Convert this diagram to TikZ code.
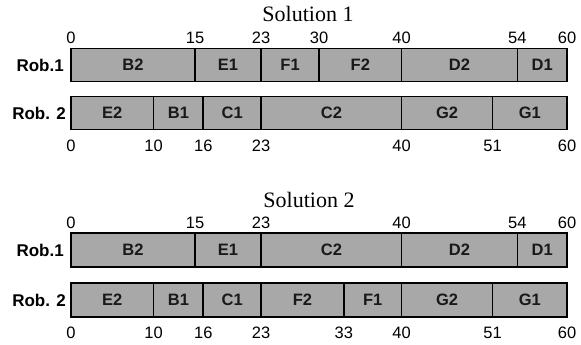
\documentclass[tikz,border=0pt]{standalone}
\usepackage{fontspec}
\setmainfont{Liberation Serif}
\setsansfont{Liberation Sans}
\begin{document}
\begin{tikzpicture}[x=1pt,y=-1pt,
  seg/.style={draw=black, line width=1.6pt, fill=black!34, inner sep=0pt, minimum height=33pt,
    font=\sffamily\bfseries\fontsize{16.5}{16.5}\selectfont, text=black!90},
  num/.style={font=\sffamily\fontsize{16.5}{16.5}\selectfont, inner sep=0pt},
  rob/.style={font=\sffamily\bfseries\fontsize{17}{17}\selectfont, inner sep=0pt, anchor=east},
  ttl/.style={font=\fontsize{22}{22}\selectfont, inner sep=0pt}]
\useasboundingbox (0,0) rectangle (581,345);
\def\ux{8.2667}
% titles
\node[ttl] (t1) at (308,14) {Solution 1};
\node[ttl] (t2) at (309,200) {Solution 2};
% robot labels
\node[rob] (r11) at (64,65) {Rob.1};
\node[rob] (r12) at (66,113) {Rob. 2};
\node[rob] (r21) at (64,250) {Rob.1};
\node[rob] (r22) at (66,300) {Rob. 2};
% Solution 1, Rob.1
\foreach \a/\b/\l/\n in {0/15/B2/a,15/23/E1/b,23/30/F1/c,30/40/F2/d,40/54/D2/e,54/60/D1/f}{
  \node[seg, minimum width={(\b-\a)*\ux*1pt}] (sa\n) at ({71+(\a+\b)/2*\ux},65) {\l};
}
% Solution 1, Rob.2
\foreach \a/\b/\l/\n in {0/10/E2/a,10/16/B1/b,16/23/C1/c,23/40/C2/d,40/51/G2/e,51/60/G1/f}{
  \node[seg, minimum width={(\b-\a)*\ux*1pt}] (sb\n) at ({71+(\a+\b)/2*\ux},113) {\l};
}
% Solution 2, Rob.1
\foreach \a/\b/\l/\n in {0/15/B2/a,15/23/E1/b,23/40/C2/c,40/54/D2/d,54/60/D1/e}{
  \node[seg, minimum width={(\b-\a)*\ux*1pt}, minimum height=34pt] (sc\n) at ({71+(\a+\b)/2*\ux},250) {\l};
}
% Solution 2, Rob.2
\foreach \a/\b/\l/\n in {0/10/E2/a,10/16/B1/b,16/23/C1/c,23/33/F2/d,33/40/F1/e,40/51/G2/f,51/60/G1/g}{
  \node[seg, minimum width={(\b-\a)*\ux*1pt}, minimum height=34pt] (sd\n) at ({71+(\a+\b)/2*\ux},300) {\l};
}
% time numbers
\foreach \t/\n in {0/a,15/b,23/c,30/d,40/e,54/f,60/g}{
  \node[num] (na\n) at ({71+\t*\ux},38) {\t};
}
\foreach \t/\n in {0/a,10/b,16/c,23/d,40/e,51/f,60/g}{
  \node[num] (nb\n) at ({71+\t*\ux},146) {\t};
}
\foreach \t/\n in {0/a,15/b,23/c,40/d,54/e,60/f}{
  \node[num] (nc\n) at ({71+\t*\ux},223) {\t};
}
\foreach \t/\n in {0/a,10/b,16/c,23/d,33/e,40/f,51/g,60/h}{
  \node[num] (nd\n) at ({71+\t*\ux},333) {\t};
}
\end{tikzpicture}
\end{document}
